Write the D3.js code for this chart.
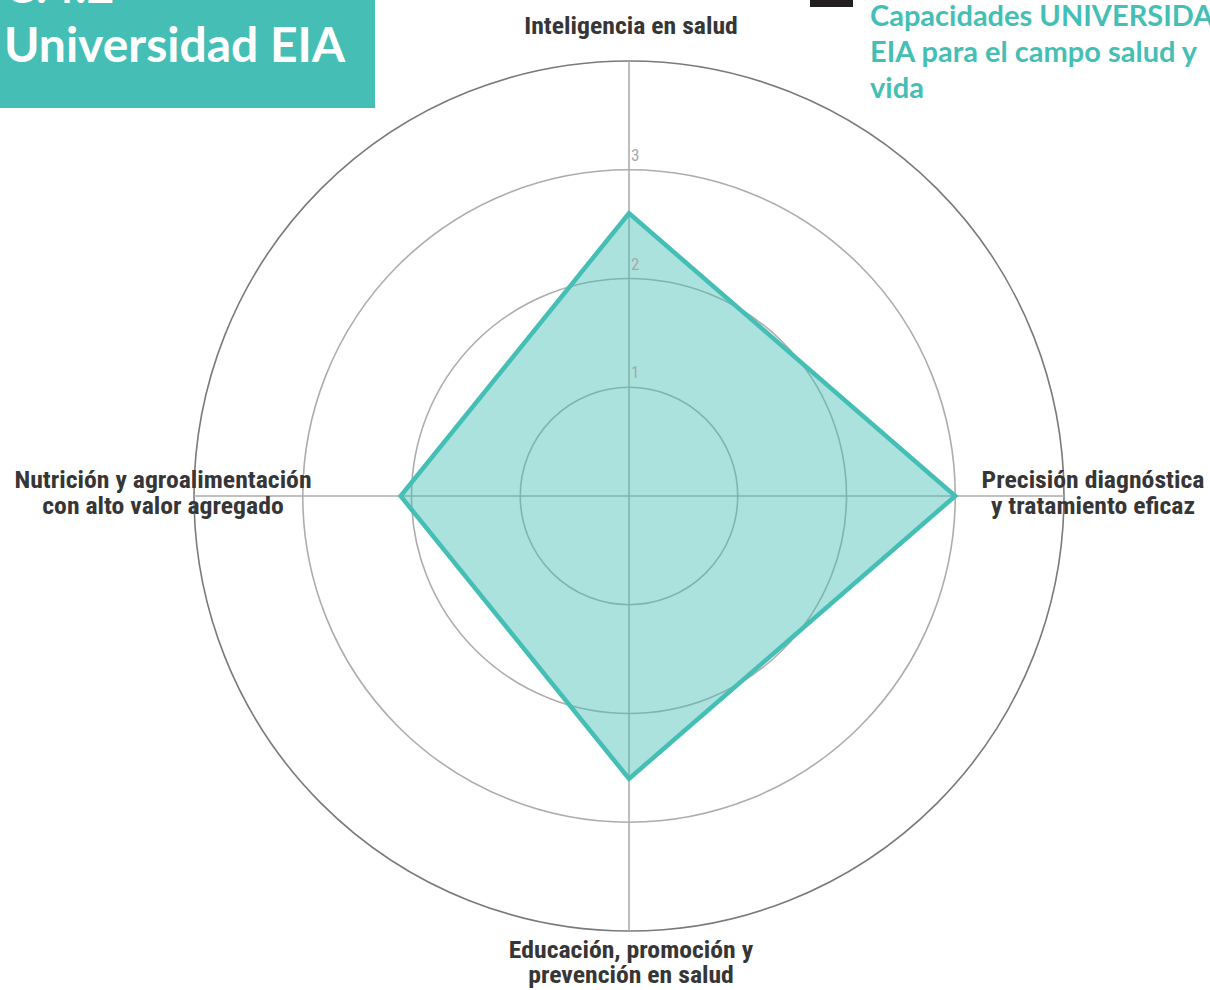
<!DOCTYPE html>
<html>
<head>
<meta charset="utf-8">
<script src="https://cdn.jsdelivr.net/npm/d3@7"></script>
<style>
  html, body { margin: 0; padding: 0; background: #fff; overflow: hidden; }
  svg { display: block; }
</style>
</head>
<body>
<script>
const categories = [
  ["Inteligencia en salud"],
  ["Precisión diagnóstica", "y tratamiento eficaz"],
  ["Educación, promoción y", "prevención en salud"],
  ["Nutrición y agroalimentación", "con alto valor agregado"]
];
const seriesValues = [2.6, 3.0, 2.6, 2.1];
const tickValues = [1, 2, 3];
const tickLabels = ["1", "2", "3"];
const titleLines = ["C.4.2", "Universidad EIA"];
const legendLines = ["Capacidades UNIVERSIDAD", "EIA para el campo salud y", "vida"];

const W = 1210, H = 990;
const cx = 629, cy = 496, R = 435;
const teal = "#45bfb5";

const svg = d3.select("body").append("svg").attr("width", W).attr("height", H);

const r = d3.scaleLinear().domain([0, 4]).range([0, R]);
const ang = i => i * 2 * Math.PI / categories.length;

const g = svg.append("g").attr("transform", `translate(${cx},${cy})`);

// grid rings
g.selectAll("circle.grid").data(tickValues).enter().append("circle")
  .attr("r", d => r(d)).attr("fill", "none").attr("stroke", "#adadad").attr("stroke-width", 1.6);
g.append("circle").attr("r", r(4)).attr("fill", "none").attr("stroke", "#7a7a7a").attr("stroke-width", 1.6);

// axis lines
g.selectAll("line.axis").data(categories).enter().append("line")
  .attr("x1", 0).attr("y1", 0)
  .attr("x2", (d, i) => r(4) * Math.sin(ang(i)))
  .attr("y2", (d, i) => -r(4) * Math.cos(ang(i)))
  .attr("stroke", "#adadad").attr("stroke-width", 1.6);

// data polygon
const line = d3.lineRadial().angle((d, i) => ang(i)).radius(d => r(d)).curve(d3.curveLinearClosed);
g.append("path").datum(seriesValues)
  .attr("d", line)
  .attr("fill", teal).attr("fill-opacity", 0.45)
  .attr("stroke", teal).attr("stroke-width", 4.5).attr("stroke-linejoin", "miter");

// tick labels
g.selectAll("text.tick").data(tickValues).enter().append("text")
  .attr("x", 2).attr("y", d => -r(d) - 9)
  .attr("font-family", "'Roboto Condensed', 'Liberation Sans Narrow', 'Roboto', sans-serif")
  .attr("font-size", 17).attr("fill", "#a8a8a8")
  .text((d, i) => tickLabels[i]);

// category labels
const labelPos = [
  { x: 2, y: -462 },
  { x: 464, y: -8 },
  { x: 2, y: 462 },
  { x: -466, y: -8 }
];
const sx = 1.095;
categories.forEach((lines, i) => {
  const t = g.append("text")
    .attr("text-anchor", "middle")
    .attr("transform", `scale(${sx},1)`)
    .attr("font-family", "'Roboto Condensed', 'Liberation Sans Narrow', 'Roboto', sans-serif")
    .attr("font-weight", "bold")
    .attr("font-size", 23.5).attr("fill", "#363636");
  lines.forEach((ln, j) => {
    t.append("tspan").attr("x", labelPos[i].x / sx).attr("y", labelPos[i].y + j * 25.5).text(ln);
  });
});

// title box
svg.append("rect").attr("x", 0).attr("y", 0).attr("width", 375).attr("height", 108).attr("fill", teal);
const tt = svg.append("text").attr("font-family", "Lato, sans-serif").attr("font-weight", "bold")
  .attr("font-size", 48).attr("fill", "#fff");
titleLines.forEach((ln, j) => tt.append("tspan").attr("x", 4).attr("y", 3 + j * 59).text(ln));

// legend
svg.append("rect").attr("x", 810).attr("y", -30).attr("width", 43).attr("height", 37).attr("fill", "#231f20");
const lt = svg.append("text").attr("font-family", "Lato, sans-serif").attr("font-weight", "bold")
  .attr("font-size", 29).attr("fill", teal);
legendLines.forEach((ln, j) => lt.append("tspan").attr("x", 870).attr("y", 26 + j * 36).text(ln));
</script>
</body>
</html>
